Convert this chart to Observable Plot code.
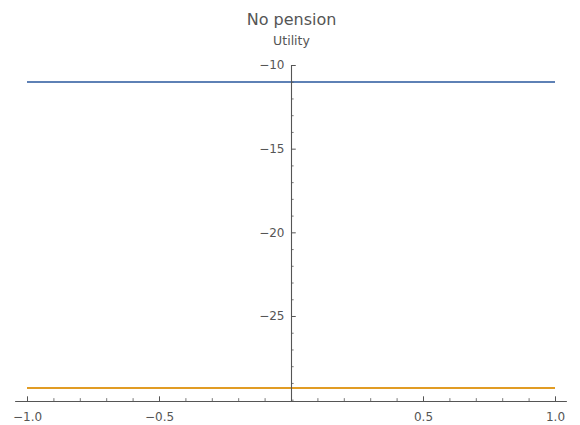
<!DOCTYPE html>
<html>
<head>
<meta charset="utf-8">
<script src="https://cdn.jsdelivr.net/npm/d3@7"></script>
<script src="https://cdn.jsdelivr.net/npm/@observablehq/plot@0.6"></script>
<style>
  html, body { margin: 0; padding: 0; background: #fff; }
  svg { display: block; }
</style>
</head>
<body>
<div id="chart"></div>
<script>
// ---- data ----
const titleText = "No pension";
const yLabelText = "Utility";
const seriesNames = ["Utility A", "Utility B"];
const seriesValues = [-10.98, -29.28];
const seriesColors = ["#5E81B5", "#E19C24"];
const xStart = -1.0;
const xEnd = 1.0;
const yMajorTicks = [-10, -15, -20, -25];
const yMinorTicks = [-11, -12, -13, -14, -16, -17, -18, -19, -21, -22, -23, -24, -26, -27, -28, -29, -30];
const xMajorTicks = [-1.0, -0.5, 0.5, 1.0];
const xMinorTicks = [-0.9, -0.8, -0.7, -0.6, -0.4, -0.3, -0.2, -0.1, 0.1, 0.2, 0.3, 0.4, 0.6, 0.7, 0.8, 0.9];
const xDomain = [-1.0, 1.0];
const yDomain = [-30.08, -10];
const xAxisExtent = [-1.045, 1.045];

const lines = seriesNames.map((name, i) => ({name, value: seriesValues[i], color: seriesColors[i], x1: xStart, x2: xEnd}));
const fmt = v => (v < 0 ? "\u2212" : "") + Math.abs(v).toFixed(1);
const fmtY = v => (v < 0 ? "\u2212" : "") + Math.abs(v);

const axisColor = "#555";
const textColor = "#555";
const yBase = yDomain[0];
const yTop = yDomain[1];

const chart = Plot.plot({
  width: 580,
  height: 425,
  marginLeft: 27,
  marginRight: 25,
  marginTop: 65,
  marginBottom: 24,
  style: {fontFamily: "'DejaVu Sans', sans-serif", background: "#fff", overflow: "visible"},
  x: {domain: xDomain, axis: null},
  y: {domain: yDomain, axis: null},
  marks: [
    // data lines
    Plot.ruleY(lines, {y: "value", x1: "x1", x2: "x2", stroke: "color", strokeWidth: 2}),
    // y axis line at x = 0
    Plot.ruleX([0], {y1: yBase, y2: yTop, stroke: axisColor, strokeWidth: 1.1}),
    // x axis line at bottom
    Plot.ruleY([yBase], {x1: xAxisExtent[0], x2: xAxisExtent[1], stroke: axisColor, strokeWidth: 1.1, clip: false}),
    // y ticks (pointing right)
    Plot.ruleY(yMajorTicks, {x1: 0, x2: 0.018, stroke: axisColor, strokeWidth: 1}),
    Plot.ruleY(yMinorTicks, {x1: 0, x2: 0.010, stroke: axisColor, strokeWidth: 0.8}),
    // x ticks (pointing up)
    Plot.ruleX(xMajorTicks, {y1: yBase, y2: yBase + 0.28, stroke: axisColor, strokeWidth: 1}),
    Plot.ruleX(xMinorTicks, {y1: yBase, y2: yBase + 0.17, stroke: axisColor, strokeWidth: 0.8}),
    // y tick labels
    Plot.text(yMajorTicks, {x: 0, y: d => d, text: fmtY, dx: -7, textAnchor: "end", fill: textColor, fontSize: 12}),
    // x tick labels
    Plot.text(xMajorTicks, {x: d => d, y: yBase, text: fmt, dy: 16, fill: textColor, fontSize: 12}),
    // title and axis label
    Plot.text([titleText], {x: 0, y: yTop, text: d => d, dy: -46, fill: textColor, fontSize: 16}),
    Plot.text([yLabelText], {x: 0, y: yTop, text: d => d, dy: -25, fill: textColor, fontSize: 12.5})
  ]
});
document.getElementById("chart").appendChild(chart);
</script>
</body>
</html>
